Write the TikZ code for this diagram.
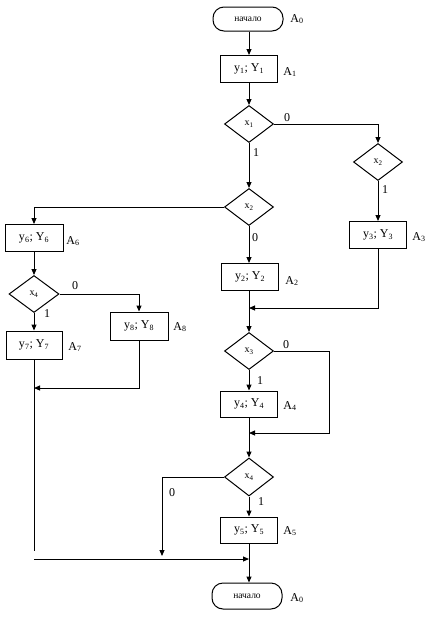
\documentclass[tikz,border=0pt]{standalone}
\usepackage{fontspec}
\setmainfont{Liberation Serif}
\usetikzlibrary{arrows.meta,shapes.geometric}
\begin{document}
\begin{tikzpicture}[x=1pt,y=-1pt,line width=1pt,
  box/.style={draw,rectangle,minimum width=57pt,minimum height=27pt,inner sep=0pt,font=\fontsize{12}{13}\selectfont},
  dia/.style={draw,diamond,minimum width=49pt,minimum height=37pt,inner sep=0pt,font=\fontsize{10}{11}\selectfont},
  term/.style={draw,rectangle,rounded corners=11pt,minimum width=70pt,minimum height=24pt,inner sep=0pt,font=\fontsize{9.5}{10}\selectfont},
  lab/.style={inner sep=0pt,font=\fontsize{12}{13}\selectfont},
  arr/.style={-{Triangle[length=6pt,width=5pt]}}]
\useasboundingbox (0,0) rectangle (438,619);
% nodes
\node[term] (t0) at (248,19) {начало};
\node[lab] (la0) at (297,19) {A\textsubscript{0}};
\node[box] (b1) at (249,69) {y\textsubscript{1}; Y\textsubscript{1}};
\node[lab] (la1) at (290,72) {A\textsubscript{1}};
\node[dia] (d1) at (249,124) {x\textsubscript{1}};
\node[dia] (d2r) at (378,162) {x\textsubscript{2}};
\node[box] (b3) at (378,235) {y\textsubscript{3}; Y\textsubscript{3}};
\node[lab] (la3) at (419,237) {A\textsubscript{3}};
\node[dia] (d2) at (249,207) {x\textsubscript{2}};
\node[box] (b2) at (250,277) {y\textsubscript{2}; Y\textsubscript{2}};
\node[lab] (la2) at (292,281) {A\textsubscript{2}};
\node[box,minimum width=58pt] (b6) at (34,238) {y\textsubscript{6}; Y\textsubscript{6}};
\node[lab] (la6) at (73,241) {A\textsubscript{6}};
\node[dia,minimum width=50pt] (d4l) at (34,294) {x\textsubscript{4}};
\node[box,minimum width=58pt,minimum height=28pt] (b8) at (139,326) {y\textsubscript{8}; Y\textsubscript{8}};
\node[lab] (la8) at (180,327) {A\textsubscript{8}};
\node[box,minimum width=56pt,minimum height=28pt] (b7) at (34,345) {y\textsubscript{7}; Y\textsubscript{7}};
\node[lab] (la7) at (75,347) {A\textsubscript{7}};
\node[dia] (d3) at (249,351) {x\textsubscript{3}};
\node[box,minimum height=26pt] (b4) at (249,404) {y\textsubscript{4}; Y\textsubscript{4}};
\node[lab] (la4) at (290,406) {A\textsubscript{4}};
\node[dia,minimum height=38pt] (d4) at (249,477) {x\textsubscript{4}};
\node[box,minimum height=26pt] (b5) at (249,530) {y\textsubscript{5}; Y\textsubscript{5}};
\node[lab] (la5) at (290,531) {A\textsubscript{5}};
\node[term,minimum height=26pt] (t1) at (247,596) {начало};
\node[lab] (la0b) at (297,598) {A\textsubscript{0}};
% branch labels
\node[lab] (l10) at (287,118) {0};
\node[lab] (l11) at (256,153) {1};
\node[lab] (l21) at (385,190) {1};
\node[lab] (l20) at (255,238) {0};
\node[lab] (l40) at (75,286) {0};
\node[lab] (l41) at (47,314) {1};
\node[lab] (l30) at (286,345) {0};
\node[lab] (l31) at (260,381) {1};
\node[lab] (l50) at (172,493) {0};
\node[lab] (l51) at (261,502) {1};
% coordinates
\coordinate (j1) at (34,388);
\coordinate (e7) at (34,551);
\coordinate (j2) at (249,308);
\coordinate (k3) at (329,433);
\coordinate (j3) at (249,433);
\coordinate (e4) at (162,556);
\coordinate (s0) at (34,559);
\coordinate (j5) at (249,559);
% connectors
\draw[arr] (t0.south -| b1.north) -- (b1.north);
\draw[arr] (b1) -- (d1);
\draw[arr] (d1.east) -| (d2r.north);
\draw[arr] (d1) -- (d2);
\draw[arr] (d2r) -- (b3);
\draw[arr] (d2.west) -| (b6.north);
\draw[arr] (d2.south) -- (b2.north -| d2.south);
\draw[arr] (b6) -- (d4l);
\draw[arr] (d4l.east) -| (b8.north);
\draw[arr] (d4l) -- (b7);
\draw[arr] (b8.south) |- (j1);
\draw (b7.south) -- (e7);
\draw[arr] (b3.south) |- (j2);
\draw[arr] (b2.south -| d3.north) -- (d3.north);
\draw[arr] (d3.east) -| (k3) -- (j3);
\draw[arr] (d3) -- (b4);
\draw[arr] (b4) -- (d4);
\draw[arr] (d4) -- (b5);
\draw[arr] (d4.west) -| (e4);
\draw[arr] (s0) -- (j5);
\draw[arr] (b5.south) -- (t1.north -| b5.south);
\end{tikzpicture}
\end{document}
